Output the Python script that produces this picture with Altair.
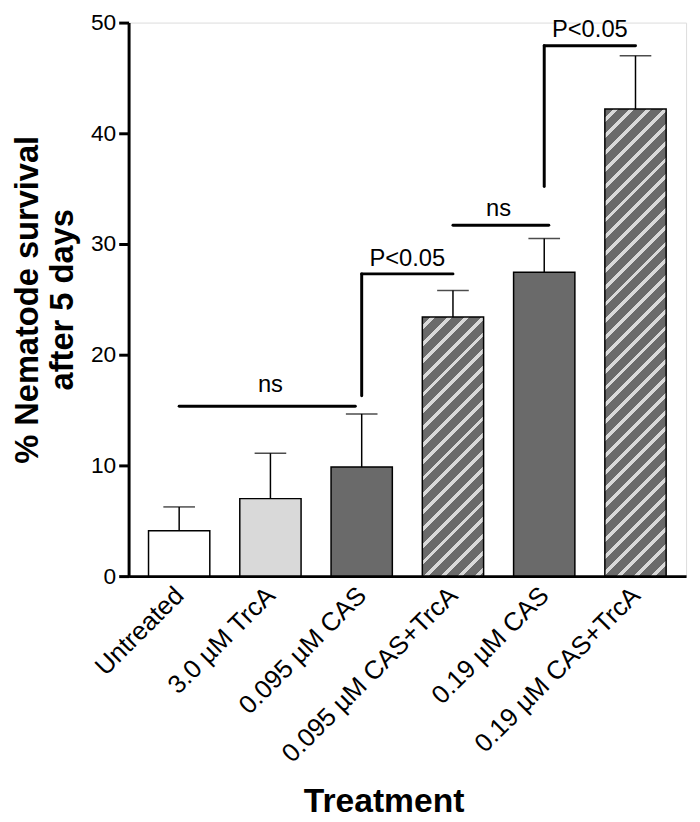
import json
import altair as alt
import pandas as pd

# ---------------- data ----------------
treatments = ["Untreated", "3.0 µM TrcA", "0.095 µM CAS",
              "0.095 µM CAS+TrcA", "0.19 µM CAS", "0.19 µM CAS+TrcA"]
survival = [4.1, 7.0, 9.85, 23.4, 27.45, 42.2]
upper_err = [6.25, 11.1, 14.65, 25.8, 30.5, 47.0]

# significance brackets (segments in data units: bar index / % survival)
br_x = [0, 2, 2, 3, 4, 4]
br_x2 = [1.93, 2, 3, 4.05, 4, 5]
br_y = [15.35, 16.3, 27.3, 31.7, 35.2, 47.9]
br_y2 = [15.35, 27.3, 27.3, 31.7, 47.9, 47.9]

sig_text = ["ns", "P<0.05", "ns", "P<0.05"]
sig_x = [1, 2.5, 3.5, 4.5]
sig_y = [16.6, 28.0, 32.5, 48.7]

# ---------------- styles ----------------
FONT = "Liberation Sans"
PLOT_W, PLOT_H = 564, 560
YMAX = 50
BAR_W = 62
DARK = "#6a6a6a"
LIGHT = "#d9d9d9"
solid_fill = {"Untreated": "#ffffff", "3.0 µM TrcA": LIGHT,
              "0.095 µM CAS": DARK, "0.19 µM CAS": DARK}
hatched = ["0.095 µM CAS+TrcA", "0.19 µM CAS+TrcA"]


def hatch_gradient(value, period=17.0, stripe=5.0):
    """Linear gradient with hard stops that renders 45-degree stripes
    inside a bar of the given value (objectBoundingBox units)."""
    h = value * PLOT_H / YMAX
    w = BAR_W
    k = w / (w * w + h * h)
    stops = [{"offset": 0, "color": DARK}]
    a = period / 2
    while a * k < 1:
        b = a + stripe
        o1 = min(a * k, 1)
        o2 = min(b * k, 1)
        stops += [{"offset": o1, "color": DARK}, {"offset": o1, "color": LIGHT},
                  {"offset": o2, "color": LIGHT}, {"offset": o2, "color": DARK}]
        a += period
    stops.append({"offset": 1, "color": DARK})
    return {"gradient": "linear", "x1": 0, "y1": 0, "x2": 1, "y2": h / w,
            "stops": stops}


df = pd.DataFrame({"treatment": treatments, "idx": list(range(len(treatments))),
                   "mean": survival, "upper": upper_err})
br_df = pd.DataFrame({"x": br_x, "x2": br_x2, "y": br_y, "y2": br_y2})
sig_df = pd.DataFrame({"text": sig_text, "x": sig_x, "y": sig_y})

label_expr = json.dumps(treatments, ensure_ascii=False) + "[datum.value]"

xscale = alt.Scale(domain=[-0.5, 5.5], nice=False, zero=False)
yscale = alt.Scale(domain=[0, YMAX], nice=False, zero=True)

xaxis = alt.Axis(values=list(range(6)), labelExpr=label_expr, labelAngle=315,
                 labelAlign="right", labelBaseline="middle", labelFontSize=26,
                 labelFont=FONT, labelColor="black", labelPadding=15,
                 labelLimit=500,
                 labelOverlap=False, labelFlush=False, ticks=False,
                 domainWidth=3, domainColor="black", grid=False,
                 title="Treatment", titleFont=FONT, titleFontSize=34,
                 titleFontWeight="bold", titleColor="black", titleX=258,
                 titleY=238, titleAlign="center", titleBaseline="alphabetic")
yaxis = alt.Axis(values=[0, 10, 20, 30, 40, 50], format="d",
                 labelFontSize=23, labelFont=FONT, labelColor="black",
                 labelPadding=3, tickSize=10, tickWidth=3, tickColor="black",
                 domainWidth=3, domainColor="black", grid=False,
                 title=["% Nematode survival", "after 5 days"], titleFont=FONT,
                 titleFontSize=33, titleFontWeight="bold", titleColor="black",
                 titleX=-92, titleY=PLOT_H / 2, titleAngle=270, titleAlign="center",
                 titleBaseline="alphabetic", titleLineHeight=35)

X = alt.X("idx:Q", scale=xscale, axis=xaxis)
Y = alt.Y("mean:Q", scale=yscale, axis=yaxis)

base = alt.Chart(df)

solid = base.transform_filter(
    alt.FieldOneOfPredicate(field="treatment", oneOf=list(solid_fill.keys()))
).mark_bar(size=BAR_W, stroke="black", strokeWidth=1.5).encode(
    x=X, y=Y,
    fill=alt.Fill("treatment:N", legend=None,
                  scale=alt.Scale(domain=list(solid_fill.keys()),
                                  range=list(solid_fill.values()))))

hatch_layers = []
for name in hatched:
    val = survival[treatments.index(name)]
    hatch_layers.append(
        base.transform_filter(alt.datum.treatment == name)
        .mark_bar(size=BAR_W, stroke="black", strokeWidth=1.5,
                  fill=hatch_gradient(val))
        .encode(x=X, y=Y))

err_line = base.mark_rule(color="black", strokeWidth=1.5).encode(
    x=X, y=Y, y2="upper:Q")
err_cap = base.mark_tick(color="black", thickness=1.5, size=32,
                         orient="horizontal").encode(
    x=X, y=alt.Y("upper:Q", scale=yscale, axis=yaxis))

brackets = alt.Chart(br_df).mark_rule(color="black", strokeWidth=3,
                                      strokeCap="round").encode(
    x=alt.X("x:Q", scale=xscale, axis=xaxis), x2="x2:Q",
    y=alt.Y("y:Q", scale=yscale, axis=yaxis), y2="y2:Q")

sig = alt.Chart(sig_df).mark_text(font=FONT, fontSize=24, color="black",
                                  align="center", baseline="alphabetic").encode(
    x=alt.X("x:Q", scale=xscale, axis=xaxis),
    y=alt.Y("y:Q", scale=yscale, axis=yaxis), text="text:N")

chart = alt.layer(solid, *hatch_layers, err_line, err_cap, brackets, sig).properties(
    width=PLOT_W, height=PLOT_H,
    autosize=alt.AutoSizeParams(type="none"),
    padding={"left": 122, "top": 10, "right": 6, "bottom": 244},
).configure_view(stroke=None).configure_axis(
    domainWidth=3, domainColor="black", tickWidth=3, tickColor="black",
    domainCap="square"
).configure(background="white")

chart.save("out.html", embed_options={"renderer": "svg", "actions": False})
